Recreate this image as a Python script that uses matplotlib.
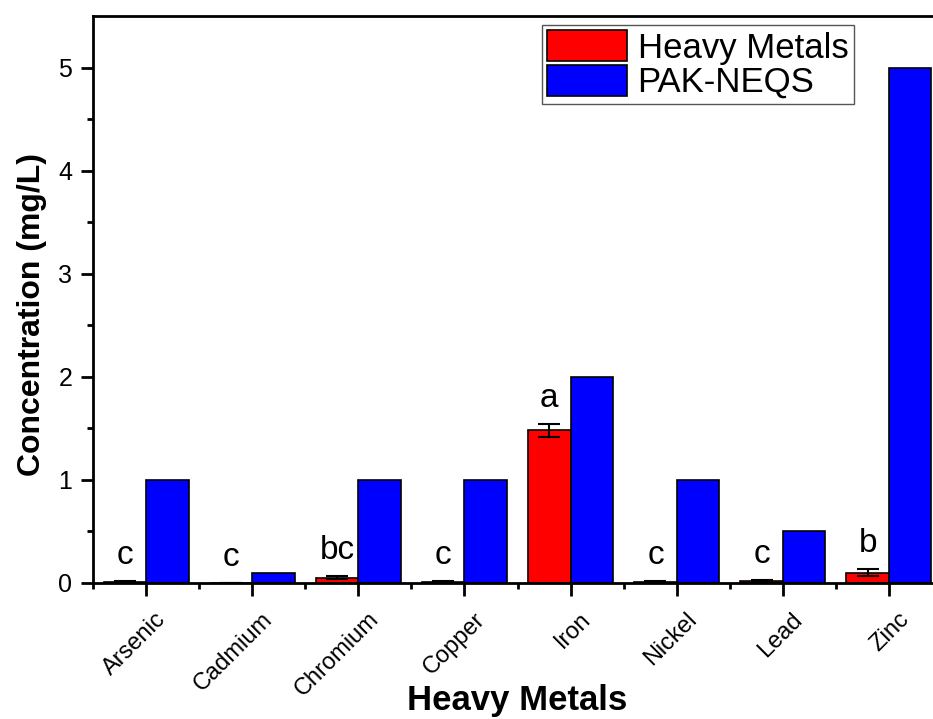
import matplotlib.pyplot as plt
import matplotlib.transforms as mtransforms
import numpy as np

plt.rcParams['font.family'] = ['Liberation Sans', 'DejaVu Sans']

metals = ['Arsenic', 'Cadmium', 'Chromium', 'Copper', 'Iron', 'Nickel', 'Lead', 'Zinc']
measured = [0.01, 0.0, 0.05, 0.01, 1.48, 0.01, 0.02, 0.10]
measured_err = [0.005, 0.0, 0.015, 0.005, 0.06, 0.005, 0.01, 0.035]
neqs = [1.0, 0.1, 1.0, 1.0, 2.0, 1.0, 0.5, 5.0]
letters = ['c', 'c', 'bc', 'c', 'a', 'c', 'c', 'b']

fig = plt.figure(figsize=(9.33, 7.19), dpi=100)
# axes runs a little past the right edge of the figure
ax = fig.add_axes([93 / 933, 1 - 583 / 719, 849 / 933, 567 / 719])

x = np.arange(len(metals))
w = 0.4
ax.bar(x - w / 2, measured, w, color='#ff0000', edgecolor='black', linewidth=1.2,
       label='Heavy Metals', zorder=2)
ax.errorbar(x - w / 2, measured, yerr=measured_err, fmt='none', ecolor='black',
            elinewidth=1.5, capsize=8, capthick=1.5, zorder=3)
ax.bar(x + w / 2, neqs, w, color='#0000ff', edgecolor='black', linewidth=1.2,
       label='PAK-NEQS', zorder=2)

# significance letters above the measured bars
for xi, v, e, t in zip(x, measured, measured_err, letters):
    ax.text(xi - w / 2, v + e + 0.1, t, ha='center', va='bottom', fontsize=24)

ax.set_xlim(-0.5, 7.5)
ax.set_ylim(0, 5.5)
ax.set_yticks(np.arange(0, 6, 1))
ax.set_yticks(np.arange(0.5, 5.5, 1), minor=True)
ax.set_xticks(x)
ax.set_xticks(np.arange(-0.5, 8, 1), minor=True)
ax.set_xticklabels(metals, rotation=45, ha='right', rotation_mode='anchor', fontsize=17)
ax.tick_params(axis='y', labelsize=18, pad=6)
ax.tick_params(which='major', direction='out', length=9, width=2)
ax.tick_params(which='minor', direction='out', length=4.5, width=2)

# nudge the slanted category labels right and down
shift = mtransforms.ScaledTranslation(9 / 100, -8 / 100, fig.dpi_scale_trans)
for lab in ax.get_xticklabels():
    lab.set_transform(lab.get_transform() + shift)

for s in ax.spines.values():
    s.set_linewidth(2)

ax.set_ylabel('Concentration (mg/L)', fontsize=23, fontweight='bold')
ax.yaxis.set_label_coords(-0.054, 0.474)
ax.set_xlabel('Heavy Metals', fontsize=25, fontweight='bold', va='top')
ax.xaxis.set_label_coords(0.5, -0.179)

leg = ax.legend(loc='upper left', bbox_to_anchor=(0.529, 0.984), fontsize=25,
                handlelength=2.3, handleheight=1.0, handletextpad=0.3,
                labelspacing=0.0, borderpad=0.15, borderaxespad=0, fancybox=False,
                framealpha=1)
leg.get_frame().set_edgecolor('#555555')
leg.get_frame().set_linewidth(1)

fig.savefig('out.png', dpi=100)
